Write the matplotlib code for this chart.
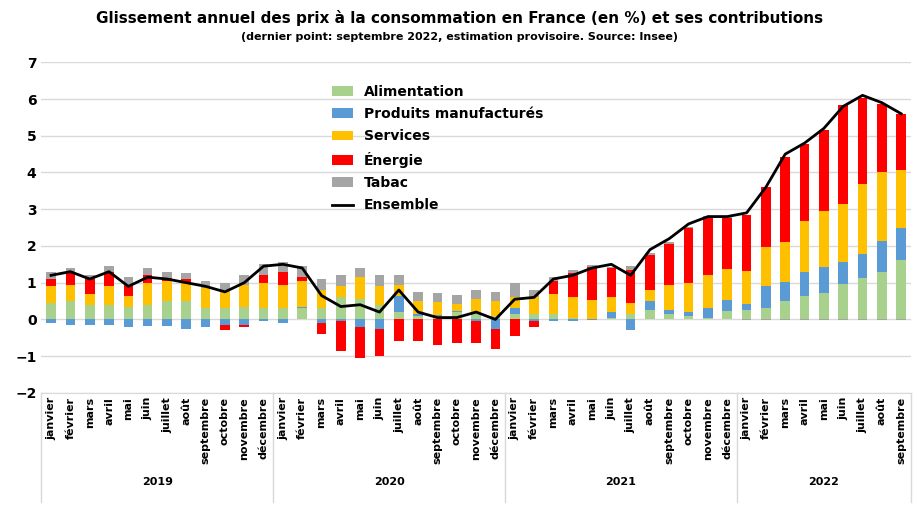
import numpy as np
import matplotlib.pyplot as plt

# ---- data ----
mois = ["janvier", "février", "mars", "avril", "mai", "juin", "juillet", "août",
        "septembre", "octobre", "novembre", "décembre"]
annees = ["2019", "2020", "2021", "2022"]
n_mois = [12, 12, 12, 9]

alimentation = [0.45, 0.50, 0.40, 0.40, 0.35, 0.40, 0.50, 0.50, 0.30, 0.30, 0.35, 0.30,
                0.30, 0.30, 0.30, 0.60, 0.55, 0.40, 0.20, 0.10, 0.10, 0.20, 0.20, 0.10,
                0.15, 0.15, 0.15, 0.05, 0.02, 0.05, 0.15, 0.25, 0.15, 0.10, 0.05, 0.23,
                0.25, 0.32, 0.50, 0.63, 0.72, 0.96, 1.12, 1.28, 1.63]
manufactures = [-0.10, -0.15, -0.15, -0.15, -0.20, -0.18, -0.18, -0.25, -0.20, -0.15, -0.15, -0.05,
                -0.10, 0.05, -0.10, -0.05, -0.20, -0.25, 0.45, 0.05, 0.02, 0.02, -0.05, -0.25,
                0.15, -0.05, -0.05, -0.05, -0.02, 0.15, -0.30, 0.25, 0.10, 0.10, 0.25, 0.29,
                0.16, 0.58, 0.51, 0.65, 0.72, 0.61, 0.65, 0.86, 0.86]
services = [0.45, 0.45, 0.30, 0.50, 0.30, 0.60, 0.55, 0.50, 0.55, 0.50, 0.60, 0.70,
            0.65, 0.70, 0.50, 0.30, 0.60, 0.50, 0.30, 0.35, 0.35, 0.20, 0.35, 0.40,
            0.30, 0.45, 0.55, 0.55, 0.50, 0.40, 0.30, 0.30, 0.70, 0.80, 0.90, 0.84,
            0.92, 1.06, 1.10, 1.40, 1.51, 1.57, 1.91, 1.87, 1.59]
energie = [0.20, 0.30, 0.40, 0.40, 0.30, 0.20, 0.08, 0.10, 0.00, -0.15, -0.05, 0.20,
           0.35, 0.10, -0.30, -0.80, -0.85, -0.75, -0.60, -0.60, -0.70, -0.65, -0.60, -0.55,
           -0.45, -0.15, 0.35, 0.65, 0.90, 0.80, 0.90, 0.95, 1.10, 1.50, 1.60, 1.40,
           1.50, 1.64, 2.32, 2.10, 2.22, 2.70, 2.36, 1.86, 1.50]
tabac = [0.20, 0.15, 0.10, 0.15, 0.20, 0.20, 0.15, 0.15, 0.20, 0.20, 0.25, 0.30,
         0.25, 0.30, 0.30, 0.30, 0.25, 0.30, 0.25, 0.25, 0.25, 0.25, 0.25, 0.25,
         0.40, 0.20, 0.10, 0.10, 0.05, 0.03, 0.10, 0.05, 0.05, 0.02, 0.02, 0.02,
         -0.02, -0.02, -0.02, -0.02, -0.02, -0.02, -0.02, -0.02, -0.02]
ensemble = [1.20, 1.30, 1.10, 1.30, 0.90, 1.15, 1.10, 1.00, 0.90, 0.75, 1.00, 1.45,
            1.50, 1.40, 0.65, 0.35, 0.40, 0.20, 0.80, 0.20, 0.05, 0.05, 0.20, 0.00,
            0.55, 0.60, 1.10, 1.20, 1.40, 1.50, 1.20, 1.90, 2.20, 2.60, 2.80, 2.80,
            2.90, 3.60, 4.50, 4.80, 5.20, 5.80, 6.10, 5.90, 5.60]

series = [("Alimentation", alimentation, "#a9d18e"),
          ("Produits manufacturés", manufactures, "#5b9bd5"),
          ("Services", services, "#ffc000"),
          ("Énergie", energie, "#ff0000"),
          ("Tabac", tabac, "#a5a5a5")]

# ---- figure ----
fig = plt.figure(figsize=(9.2, 5.19), dpi=100)
ax = fig.add_axes([0.045, 0.243, 0.945, 0.637])

x = np.arange(len(ensemble))
pos = np.zeros(len(x))
neg = np.zeros(len(x))
handles = []
for label, vals, color in series:
    v = np.array(vals)
    bottom = np.where(v >= 0, pos, neg)
    h = ax.bar(x, v, bottom=bottom, width=0.5, color=color, label=label, zorder=2)
    handles.append(h)
    pos += np.where(v >= 0, v, 0)
    neg += np.where(v < 0, v, 0)
line, = ax.plot(x, ensemble, color="black", lw=2, label="Ensemble", zorder=3)
handles.append(line)

ax.set_xlim(-0.5, len(x) - 0.5)
ax.set_ylim(-2, 7)
ax.set_yticks(range(-2, 8))
ax.tick_params(axis="y", length=0, labelsize=10)
for lbl in ax.get_yticklabels():
    lbl.set_fontweight("bold")
ax.grid(axis="y", color="#d9d9d9", lw=1, zorder=0)
for s in ["top", "right", "left"]:
    ax.spines[s].set_visible(False)
ax.spines["bottom"].set_color("#d9d9d9")

labels = []
for n in n_mois:
    labels += mois[:n]
ax.set_xticks(x)
ax.set_xticklabels(labels, rotation=90, fontsize=8, fontweight="bold")
ax.tick_params(axis="x", length=0, pad=3)

# year labels and separators
start = 0
trans = ax.get_xaxis_transform()
for yr, n in zip(annees, n_mois):
    mid = start + (n - 1) / 2
    ax.text(mid, -0.27, yr, transform=trans, ha="center", va="center",
            fontsize=8, fontweight="bold")
    ax.plot([start - 0.5, start - 0.5], [0, -0.33], transform=trans,
            color="#d9d9d9", lw=1, clip_on=False)
    start += n
ax.plot([start - 0.5, start - 0.5], [0, -0.33], transform=trans,
        color="#d9d9d9", lw=1, clip_on=False)

ax.legend(handles=handles, loc="upper left", bbox_to_anchor=(0.32, 0.97),
          frameon=False, prop={"weight": "bold", "size": 10},
          handlelength=1.5, handleheight=0.7, labelspacing=0.6)

fig.text(0.5, 0.955, "Glissement annuel des prix à la consommation en France (en %) et ses contributions",
         ha="center", fontsize=11, fontweight="bold")
fig.text(0.5, 0.922, "(dernier point: septembre 2022, estimation provisoire. Source: Insee)",
         ha="center", fontsize=8, fontweight="bold")

fig.savefig("out.png", dpi=100)
